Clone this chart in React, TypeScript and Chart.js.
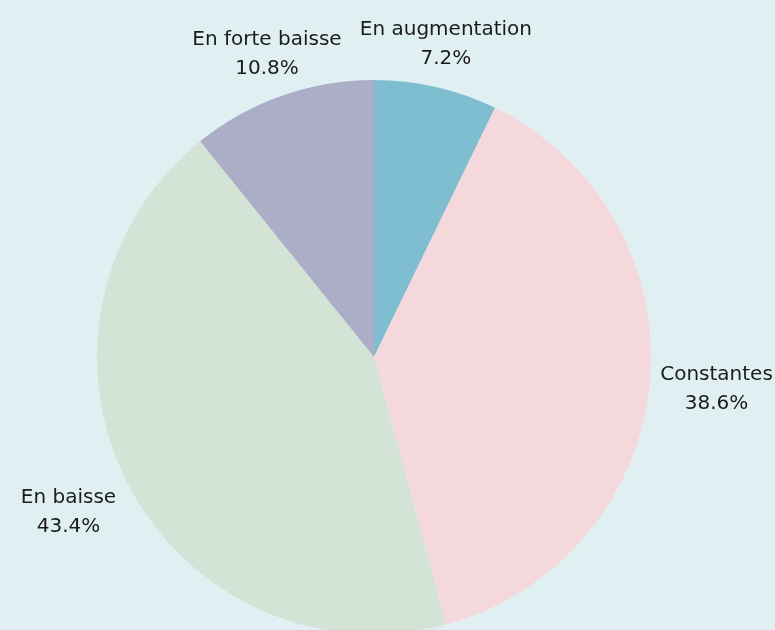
import React, { useEffect, useRef } from "react";
import { Chart, registerables } from "chart.js";

Chart.register(...registerables);

const categories = ["En augmentation", "Constantes", "En baisse", "En forte baisse"];
const values = [7.2, 38.6, 43.4, 10.8];
const valueLabels = ["7.2%", "38.6%", "43.4%", "10.8%"];
const colors = ["#7fbed1", "#f5d8dc", "#d3e3d6", "#abaec6"];

const BG = "#e0f0f2";
const FONT = "20px 'DejaVu Sans', sans-serif";

const labelPlugin = {
  id: "outerLabels",
  afterDraw(chart: any) {
    const ctx = chart.ctx as CanvasRenderingContext2D;
    const meta = chart.getDatasetMeta(0);
    ctx.save();
    ctx.font = FONT;
    ctx.fillStyle = "#1b1b1b";
    ctx.textAlign = "center";
    ctx.textBaseline = "middle";
    const lineH = 29;
    meta.data.forEach((arc: any, i: number) => {
      const { x, y, startAngle, endAngle, outerRadius } = arc.getProps(
        ["x", "y", "startAngle", "endAngle", "outerRadius"],
        true
      );
      const mid = (startAngle + endAngle) / 2;
      const ux = Math.cos(mid);
      const uy = Math.sin(mid);
      const lines = [categories[i], valueLabels[i]];
      const w = Math.max(...lines.map((l) => ctx.measureText(l).width)) + 2;
      const h = lineH * lines.length;
      const dx = Math.abs(ux) > 1e-6 ? w / 2 / Math.abs(ux) : Infinity;
      const dy = Math.abs(uy) > 1e-6 ? h / 2 / Math.abs(uy) : Infinity;
      const d = outerRadius + 9 + 5 * Math.abs(uy) + Math.min(dx, dy);
      const cx = x + ux * d;
      const cy = y + uy * d;
      lines.forEach((l, k) => {
        ctx.fillText(l, cx, cy + (k - (lines.length - 1) / 2) * lineH);
      });
    });
    ctx.restore();
  },
};

export default function App() {
  const ref = useRef<HTMLCanvasElement>(null);
  useEffect(() => {
    document.body.style.margin = "0";
    document.body.style.background = BG;
    const chart = new Chart(ref.current as HTMLCanvasElement, {
      type: "pie",
      data: {
        labels: categories,
        datasets: [
          {
            data: values,
            backgroundColor: colors,
            borderWidth: 0,
          },
        ],
      },
      options: {
        animation: false,
        responsive: false,
        maintainAspectRatio: false,
        layout: { padding: { top: 80, bottom: 26, left: 97, right: 124 } },
        plugins: {
          legend: { display: false },
          tooltip: { enabled: false },
        },
      },
      plugins: [labelPlugin],
    });
    return () => chart.destroy();
  }, []);
  return (
    <div style={{ width: 775, height: 630, overflow: "hidden", background: BG }}>
      <canvas ref={ref} width={775} height={660} style={{ display: "block" }} />
    </div>
  );
}
